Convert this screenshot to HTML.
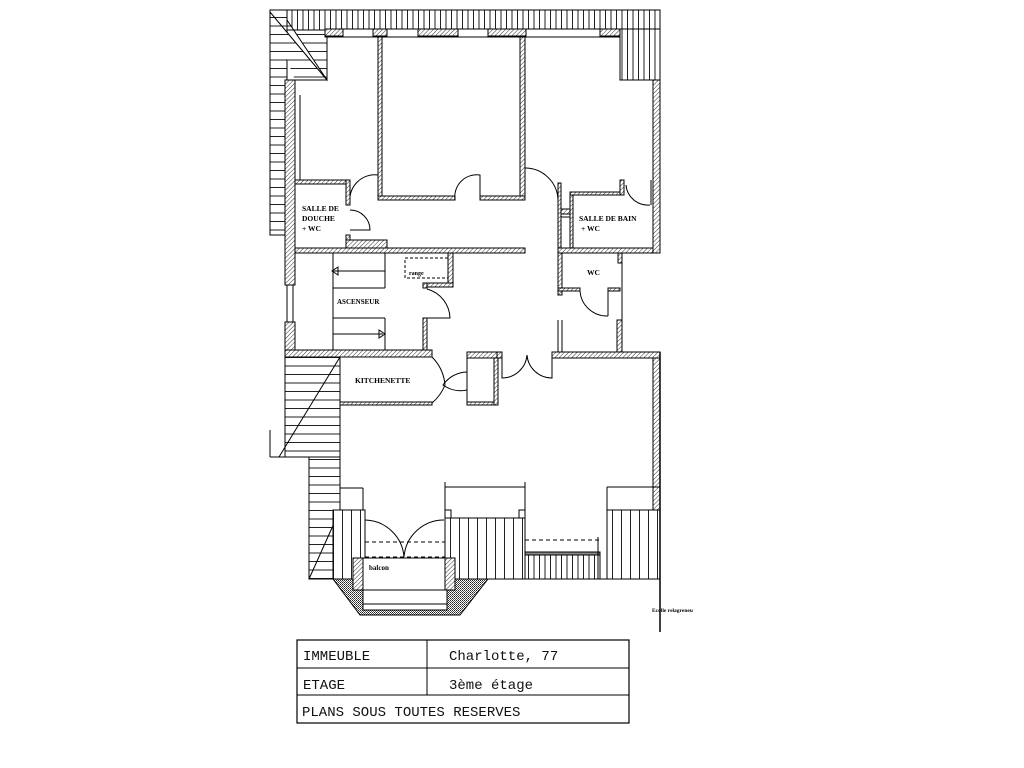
<!DOCTYPE html>
<html><head><meta charset="utf-8"><style>
html,body{margin:0;padding:0;background:#fff;width:1024px;height:768px;overflow:hidden}
svg{display:block}
</style></head><body>
<svg width="1024" height="768" viewBox="0 0 1024 768" xmlns="http://www.w3.org/2000/svg">
<defs>
<pattern id="h" width="3" height="3" patternUnits="userSpaceOnUse" patternTransform="rotate(45)"><rect width="3" height="3" fill="#fff"/><line x1="0" y1="0" x2="0" y2="3" stroke="#333" stroke-width="1"/></pattern>
<pattern id="v" width="5.5" height="10" patternUnits="userSpaceOnUse"><rect width="5.5" height="10" fill="#fff"/><line x1="0.5" y1="0" x2="0.5" y2="10" stroke="#222" stroke-width="1"/></pattern>
<pattern id="vw" width="9" height="10" patternUnits="userSpaceOnUse"><rect width="9" height="10" fill="#fff"/><line x1="0.5" y1="0" x2="0.5" y2="10" stroke="#222" stroke-width="1"/></pattern>
<pattern id="hz" width="10" height="8.5" patternUnits="userSpaceOnUse"><rect width="10" height="8.5" fill="#fff"/><line x1="0" y1="0.5" x2="10" y2="0.5" stroke="#222" stroke-width="1"/></pattern>
<pattern id="x" width="2" height="2" patternUnits="userSpaceOnUse"><rect width="2" height="2" fill="#fff"/><rect width="1" height="1" fill="#222"/><rect x="1" y="1" width="1" height="1" fill="#555"/></pattern>
</defs>
<g stroke="#000" stroke-width="1" fill="none">
<!-- roof hatch top -->
<rect x="270" y="10" width="390" height="20" fill="url(#v)"/>
<rect x="620" y="29" width="40" height="51" fill="url(#v)"/>
<rect x="270" y="10" width="17" height="225" fill="url(#hz)"/>
<polygon points="287,20 327,80 327,30 287,30" fill="url(#hz)"/>
<polygon points="270,12 327,80 295,80 287,60" fill="url(#hz)" stroke="none"/>
<line x1="270" y1="12" x2="327" y2="80"/>
<line x1="270" y1="10" x2="270" y2="235"/>
<!-- top wall -->
<rect x="325" y="29" width="295" height="8" fill="#fff"/>
<line x1="325" y1="37" x2="620" y2="37" stroke-dasharray="4,3"/>
<rect x="325" y="29" width="18" height="7" fill="url(#h)"/>
<rect x="373" y="29" width="14" height="7" fill="url(#h)"/>
<rect x="418" y="29" width="40" height="7" fill="url(#h)"/>
<rect x="488" y="29" width="38" height="7" fill="url(#h)"/>
<rect x="600" y="29" width="20" height="7" fill="url(#h)"/>
<!-- left outer wall -->
<rect x="285" y="80" width="10" height="205" fill="url(#h)"/>
<line x1="295" y1="80" x2="327" y2="80"/><line x1="327" y1="37" x2="327" y2="80"/>
<line x1="300" y1="95" x2="300" y2="180"/>
<line x1="287" y1="285" x2="287" y2="322"/><line x1="293" y1="285" x2="293" y2="322"/>
<rect x="285" y="322" width="10" height="30" fill="url(#h)"/>
<!-- middle room -->
<rect x="378" y="37" width="4" height="163" fill="url(#h)"/>
<rect x="520" y="37" width="5" height="163" fill="url(#h)"/>
<rect x="378" y="196" width="77" height="4" fill="url(#h)"/>
<rect x="480" y="196" width="45" height="4" fill="url(#h)"/>
<path d="M455 200 A22 22 0 0 1 480 175 L480 196"/>
<path d="M525 168 A33 33 0 0 1 558 200"/>
<path d="M378 175 A25 25 0 0 0 350 203"/>
<!-- right room -->
<line x1="620" y1="80" x2="660" y2="80"/>
<rect x="653" y="80" width="7" height="173" fill="url(#h)"/>
<!-- salle de douche -->
<rect x="295" y="180" width="55" height="4" fill="url(#h)"/>
<rect x="346" y="180" width="4" height="25" fill="url(#h)"/>
<rect x="346" y="235" width="4" height="13" fill="url(#h)"/>
<rect x="346" y="240" width="41" height="8" fill="url(#h)"/>
<path d="M350 210 A20 20 0 0 1 370 230 L350 230"/>
<!-- corridor wall -->
<rect x="295" y="248" width="230" height="5" fill="url(#h)"/>
<!-- salle de bain -->
<rect x="558" y="183" width="3" height="65" fill="url(#h)"/>
<rect x="570" y="192" width="3" height="56" fill="url(#h)"/>
<line x1="561" y1="210" x2="570" y2="210"/><rect x="561" y="209" width="9" height="5" fill="url(#h)"/><line x1="561" y1="217" x2="570" y2="217"/>
<rect x="570" y="192" width="53" height="3" fill="url(#h)"/>
<rect x="620" y="180" width="4" height="15" fill="url(#h)"/>
<path d="M626 185 A22 22 0 0 0 650 205"/><line x1="651" y1="180" x2="651" y2="205"/>
<rect x="558" y="248" width="95" height="5" fill="url(#h)"/>
<line x1="620" y1="253" x2="660" y2="253"/>
<!-- WC -->
<rect x="558" y="253" width="4" height="42" fill="url(#h)"/>
<rect x="558" y="288" width="22" height="3" fill="url(#h)"/>
<rect x="608" y="288" width="12" height="3" fill="url(#h)"/>
<line x1="608" y1="291" x2="608" y2="316"/>
<path d="M580 291 A27 27 0 0 0 608 316"/>
<rect x="618" y="253" width="4" height="10" fill="url(#h)"/>
<line x1="622" y1="253" x2="622" y2="320"/>
<rect x="617" y="320" width="5" height="32" fill="url(#h)"/>
<line x1="558" y1="320" x2="558" y2="352"/><line x1="562" y1="320" x2="562" y2="352"/>
<!-- stairs / ascenseur -->
<line x1="333" y1="253" x2="333" y2="350"/>
<line x1="333" y1="288" x2="385" y2="288"/><line x1="385" y1="253" x2="385" y2="288"/>
<line x1="333" y1="271" x2="385" y2="271"/><path d="M338 267 L332 271 L338 275 Z"/>
<line x1="333" y1="318" x2="385" y2="318"/><line x1="385" y1="318" x2="385" y2="350"/>
<line x1="333" y1="334" x2="383" y2="334"/><path d="M379 330 L385 334 L379 338 Z"/>
<rect x="405" y="258" width="45" height="20" stroke-dasharray="3,2"/>
<rect x="448" y="253" width="5" height="33" fill="url(#h)"/>
<rect x="423" y="283" width="30" height="4" fill="url(#h)"/>
<rect x="423" y="283" width="4" height="5" fill="url(#h)"/>
<path d="M427 289 A31 31 0 0 1 450 318 L427 318"/>
<rect x="423" y="318" width="4" height="34" fill="url(#h)"/>
<!-- lower horizontal wall -->
<rect x="285" y="350" width="147" height="7" fill="url(#h)"/>
<rect x="467" y="352" width="35" height="6" fill="url(#h)"/>
<rect x="552" y="352" width="108" height="6" fill="url(#h)"/>
<!-- kitchenette -->
<line x1="340" y1="357" x2="340" y2="579"/>
<rect x="340" y="402" width="92" height="3" fill="url(#h)"/>
<path d="M432 357 A45 45 0 0 1 445 385 A45 45 0 0 1 432 403"/>
<path d="M467 372 A30 30 0 0 0 443 385 A30 30 0 0 0 467 390"/>
<rect x="467" y="352" width="30" height="53" fill="none"/>
<rect x="467" y="402" width="30" height="3" fill="url(#h)"/>
<rect x="494" y="358" width="4" height="47" fill="url(#h)"/>
<path d="M502 358 L502 378 A25 25 0 0 0 527 355 A25 25 0 0 0 552 378 L552 358"/>
<rect x="653" y="358" width="7" height="152" fill="url(#h)"/>
<!-- left stairs lower -->
<rect x="285" y="357" width="55" height="100" fill="url(#hz)"/>
<rect x="309" y="457" width="31" height="122" fill="url(#hz)"/>
<line x1="270" y1="430" x2="270" y2="457"/><line x1="270" y1="457" x2="309" y2="457"/>
<line x1="279" y1="457" x2="340" y2="357"/>
<line x1="309" y1="579" x2="340" y2="510"/>
<!-- bottom windows -->
<line x1="340" y1="488" x2="363" y2="488"/><line x1="363" y1="488" x2="363" y2="510"/>
<rect x="333" y="510" width="32" height="69" fill="url(#vw)"/>
<line x1="445" y1="482" x2="445" y2="579"/><line x1="445" y1="487" x2="525" y2="487"/><line x1="525" y1="482" x2="525" y2="518"/>
<rect x="445" y="518" width="80" height="61" fill="url(#vw)"/>
<rect x="445" y="510" width="6" height="8"/><rect x="519" y="510" width="6" height="8"/>
<rect x="525" y="555" width="75" height="24" fill="url(#v)"/>
<line x1="525" y1="540" x2="600" y2="540" stroke-dasharray="4,3"/>
<rect x="525" y="552" width="75" height="3" fill="#888"/>
<line x1="598" y1="537" x2="598" y2="579"/>
<line x1="607" y1="487" x2="660" y2="487"/><line x1="607" y1="487" x2="607" y2="510"/>
<rect x="607" y="510" width="53" height="69" fill="url(#vw)"/>
<line x1="309" y1="579" x2="660" y2="579"/>
<line x1="660" y1="352" x2="660" y2="632" stroke-width="1.5"/>
<!-- balcony doors -->
<path d="M365 520 A40 40 0 0 1 404 557"/><path d="M444 520 A40 40 0 0 0 404 557"/>
<line x1="365" y1="542" x2="445" y2="542" stroke-dasharray="4,3"/>
<line x1="365" y1="557" x2="445" y2="557" stroke-dasharray="4,3"/>
<!-- balcony -->
<polygon points="333,579 353,579 353,590 363,590 363,610 447,610 447,590 455,590 455,579 488,579 460,615 360,615" fill="url(#x)"/>
<rect x="353" y="558" width="102" height="32" fill="#fff"/>
<rect x="353" y="558" width="10" height="32" fill="url(#h)"/>
<rect x="445" y="558" width="10" height="32" fill="url(#h)"/>
<rect x="363" y="590" width="84" height="20" fill="#fff"/>
<line x1="363" y1="604" x2="447" y2="604"/>
<!-- title block -->
<rect x="297" y="640" width="332" height="83" stroke-width="1.2"/>
<line x1="297" y1="668" x2="629" y2="668"/><line x1="297" y1="695" x2="629" y2="695"/>
<line x1="427" y1="640" x2="427" y2="695"/>
</g>
<g font-family="Liberation Serif, serif" font-weight="bold" font-size="7.5" fill="#000">
<text x="302" y="211">SALLE DE</text><text x="302" y="221">DOUCHE</text><text x="302" y="231">+ WC</text>
<text x="579" y="221">SALLE DE BAIN</text><text x="581" y="231">+ WC</text>
<text x="587" y="275">WC</text>
<text x="337" y="304" font-size="7">ASCENSEUR</text>
<text x="409" y="275" font-size="6">range</text>
<text x="355" y="383">KITCHENETTE</text>
<text x="369" y="570" font-size="7">balcon</text>
<text x="652" y="612" font-size="5.5">Ecolle relagreneu</text>
</g>
<g font-family="Liberation Mono, monospace" font-size="14" fill="#111">
<text x="303" y="660">IMMEUBLE</text>
<text x="449" y="660">Charlotte, 77</text>
<text x="303" y="689">ETAGE</text>
<text x="449" y="689">3ème étage</text>
<text x="302" y="716">PLANS SOUS TOUTES RESERVES</text>
</g>
</svg>
</body></html>
